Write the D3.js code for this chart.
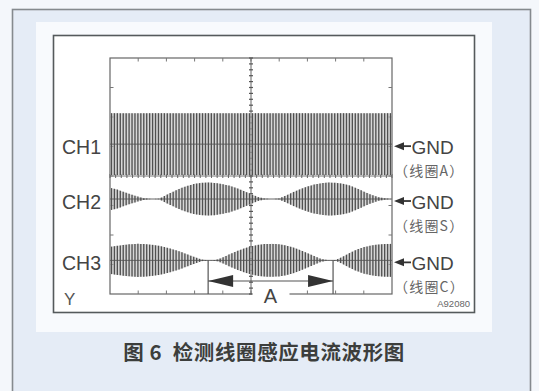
<!DOCTYPE html>
<html><head><meta charset="utf-8">
<script src="https://cdn.jsdelivr.net/npm/d3@7"></script>
<style>body{margin:0;background:#fff}svg{display:block}</style>
</head><body><svg id="c" width="539" height="391"></svg>
<script>
// ---- data ----
const channels = ["CH1", "CH2", "CH3"];
const coilLabels = ["（线圈A）", "（线圈S）", "（线圈C）"];
const gndLabel = "GND";
const channelOffsetDiv = [1.08, -0.78, -2.86];   // channel zero line, in vertical divisions from screen centre
const channelAmpDiv = [1.05, 0.56, 0.56];        // full-envelope amplitude in divisions
const envPos = [0,0.25,0.5,0.75,1,1.25,1.5,1.75,2,2.25,2.5,2.75,3,3.25,3.5,3.75,4,4.25,4.5,4.75,5,5.25,5.5,5.75,6,6.25,6.5,6.75,7,7.25,7.5,7.75,8,8.25,8.5,8.75,9,9.25,9.5,9.75,10];
const envCH1 = [1,1,1,1,1,1,1,1,1,1,1,1,1,1,1,1,1,1,1,1,1,1,1,1,1,1,1,1,1,1,1,1,1,1,1,1,1,1,1,1,1];
const envCH2 = [0.68,0.58,0.42,0.28,0.14,0.03,0,0.02,0.25,0.45,0.65,0.8,0.92,0.98,1,0.97,0.9,0.8,0.65,0.48,0.3,0.12,0.02,0,0.03,0.22,0.42,0.6,0.76,0.88,0.96,1,0.98,0.93,0.82,0.65,0.45,0.27,0.12,0.04,0];
const envCH3 = [0.82,0.88,0.94,0.98,1,0.98,0.94,0.88,0.78,0.66,0.52,0.36,0.2,0.05,0,0.02,0.18,0.38,0.56,0.72,0.85,0.94,0.99,1,0.97,0.9,0.78,0.62,0.44,0.25,0.08,0,0.02,0.22,0.45,0.65,0.8,0.9,0.96,0.99,1];
const envelopes = [envCH1, envCH2, envCH3];
const carrierCycles = 96;
const markerPos = [3.48, 7.91];      // time markers of interval A (divisions)
const markerLabel = "A";
const yLabel = "Y";
const figId = "A92080";
const caption = "图 6  检测线圈感应电流波形图";

// ---- layout ----
const svg = d3.select("#c");
const x = d3.scaleLinear().domain([0, 10]).range([110, 392]);
const y = d3.scaleLinear().domain([4, -4]).range([58, 294]);
const ink = "#505050";

// backgrounds
svg.append("rect").attr("width", 539).attr("height", 391).attr("fill", "#f4f7fb");
svg.append("rect").attr("x", 12.5).attr("y", 9.5).attr("width", 518).attr("height", 400)
  .attr("fill", "#e5ecf6").attr("stroke", "#858a8e").attr("stroke-width", 1.6);
svg.append("rect").attr("x", 36).attr("y", 22).attr("width", 456).attr("height", 310).attr("fill", "#f8fafd");
svg.append("rect").attr("x", 53.5).attr("y", 35.5).attr("width", 421).attr("height", 277)
  .attr("fill", "#ffffff").attr("stroke", "#555a5c").attr("stroke-width", 1.6);

// screen frame
const g = svg.append("g");
g.append("rect").attr("x", x(0)).attr("y", y(4)).attr("width", x(10) - x(0)).attr("height", y(-4) - y(4))
  .attr("fill", "none").attr("stroke", "#666").attr("stroke-width", 1.2);

// major ticks on frame
const majX = d3.range(1, 10);
const majY = d3.range(-3, 4);
g.selectAll(".tt").data(majX).join("line").attr("x1", d => x(d)).attr("x2", d => x(d))
  .attr("y1", y(4)).attr("y2", y(4) + 3.5).attr("stroke", "#777").attr("stroke-width", 1);
g.selectAll(".bt").data(majX).join("line").attr("x1", d => x(d)).attr("x2", d => x(d))
  .attr("y1", y(-4)).attr("y2", y(-4) - 3.5).attr("stroke", "#777").attr("stroke-width", 1);
g.selectAll(".lt").data(majY).join("line").attr("y1", d => y(d)).attr("y2", d => y(d))
  .attr("x1", x(0)).attr("x2", x(0) + 3.5).attr("stroke", "#777").attr("stroke-width", 1);
g.selectAll(".rt").data(majY).join("line").attr("y1", d => y(d)).attr("y2", d => y(d))
  .attr("x1", x(10)).attr("x2", x(10) - 3.5).attr("stroke", "#777").attr("stroke-width", 1);

// centre graticule with minor ticks
g.append("line").attr("x1", x(5)).attr("x2", x(5)).attr("y1", y(4)).attr("y2", y(-4)).attr("stroke", "#666").attr("stroke-width", 1);
g.append("line").attr("x1", x(0)).attr("x2", x(10)).attr("y1", y(0)).attr("y2", y(0)).attr("stroke", "#777").attr("stroke-width", 1);
const minY = d3.range(-4, 4.001, 0.2);
const minX = d3.range(0, 10.001, 0.2);
g.selectAll(".my").data(minY).join("line").attr("x1", x(5) - 2).attr("x2", x(5) + 2)
  .attr("y1", d => y(d)).attr("y2", d => y(d)).attr("stroke", "#555").attr("stroke-width", 1.2);
g.selectAll(".mx").data(minX).join("line").attr("y1", y(0) - 2).attr("y2", y(0) + 2)
  .attr("x1", d => x(d)).attr("x2", d => x(d)).attr("stroke", "#666").attr("stroke-width", 1);

// waveforms
const stripes = d3.range(carrierCycles).map(i => (i + 0.5) * 10 / carrierCycles);
envelopes.forEach((env, ci) => {
  const envScale = d3.scaleLinear().domain(envPos).range(env);
  const c = y(channelOffsetDiv[ci]);
  const ampPx = y(0) - y(channelAmpDiv[ci]);
  const area = d3.area().x(d => x(d)).y0(d => c - envScale(d) * ampPx).y1(d => c + envScale(d) * ampPx).curve(d3.curveMonotoneX);
  g.append("path").datum(d3.range(0, 10.001, 0.05)).attr("d", area).attr("fill", "#bdbdbd").attr("opacity", 0.6);
  g.append("line").attr("x1", x(0)).attr("x2", x(10)).attr("y1", c).attr("y2", c).attr("stroke", "#666").attr("stroke-width", 1);
  g.selectAll(null).data(stripes).join("line")
    .attr("x1", d => x(d)).attr("x2", d => x(d))
    .attr("y1", d => c - envScale(d) * ampPx).attr("y2", d => c + envScale(d) * ampPx)
    .attr("stroke", ink).attr("stroke-width", 1.35);
});

// interval marker A
const markY = 281;
const c3 = y(channelOffsetDiv[2]);
markerPos.forEach(m => {
  g.append("line").attr("x1", x(m)).attr("x2", x(m)).attr("y1", c3).attr("y2", y(-4)).attr("stroke", "#555").attr("stroke-width", 1.2);
});
g.append("line").attr("x1", x(markerPos[0])).attr("x2", x(markerPos[1])).attr("y1", markY).attr("y2", markY).attr("stroke", "#555").attr("stroke-width", 1.2);
const xa = x(markerPos[0]), xb = x(markerPos[1]);
g.append("path").attr("d", `M${xa},${markY} L${xa + 25},${markY - 6} L${xa + 25},${markY + 6} Z`).attr("fill", "#333");
g.append("path").attr("d", `M${xb},${markY} L${xb - 25},${markY - 6} L${xb - 25},${markY + 6} Z`).attr("fill", "#333");
g.append("rect").attr("x", x(5) + 1.5).attr("y", y(-4) - 5).attr("width", 37).attr("height", 16).attr("fill", "#fff");
g.append("text").attr("x", 270.5).attr("y", 302.5).attr("text-anchor", "middle")
  .attr("font-family", "Liberation Sans, Arial, sans-serif").attr("font-size", 20).attr("fill", "#444").text(markerLabel);

// channel labels
const font = "Liberation Sans, Arial, sans-serif";
channels.forEach((ch, i) => {
  const c = y(channelOffsetDiv[i]) + 2;
  svg.append("text").attr("x", 62).attr("y", c + 7.5).attr("font-family", font).attr("font-size", 19.5)
    .attr("fill", "#444").text(ch);
  svg.append("path").attr("d", `M394,${c} L404,${c - 4} L404,${c + 4} Z`).attr("fill", "#333");
  svg.append("line").attr("x1", 402).attr("x2", 411).attr("y1", c).attr("y2", c).attr("stroke", "#333").attr("stroke-width", 1.8);
  svg.append("text").attr("x", 411.5).attr("y", c + 7.5).attr("font-family", font).attr("font-size", 19)
    .attr("fill", "#444").text(gndLabel);
  svg.append("text").attr("x", 394).attr("y", c + 30).attr("font-family", "Noto Sans CJK SC, sans-serif").attr("font-size", 14)
    .attr("letter-spacing", 1.2).attr("fill", "#666").text(coilLabels[i]);
});

svg.append("text").attr("x", 64).attr("y", 305).attr("font-family", font).attr("font-size", 17).attr("fill", "#555").text(yLabel);
svg.append("text").attr("x", 470).attr("y", 307).attr("text-anchor", "end").attr("font-family", font).attr("font-size", 9.5).attr("fill", "#666").text(figId);

svg.append("text").attr("x", 264).attr("y", 360).attr("text-anchor", "middle")
  .attr("font-family", "Noto Sans CJK SC, sans-serif").attr("font-weight", "bold").attr("font-size", 20.5)
  .attr("letter-spacing", 0.6)
  .attr("fill", "#3c3e3c").attr("xml:space", "preserve").style("white-space", "pre").text(caption);
</script></body></html>
